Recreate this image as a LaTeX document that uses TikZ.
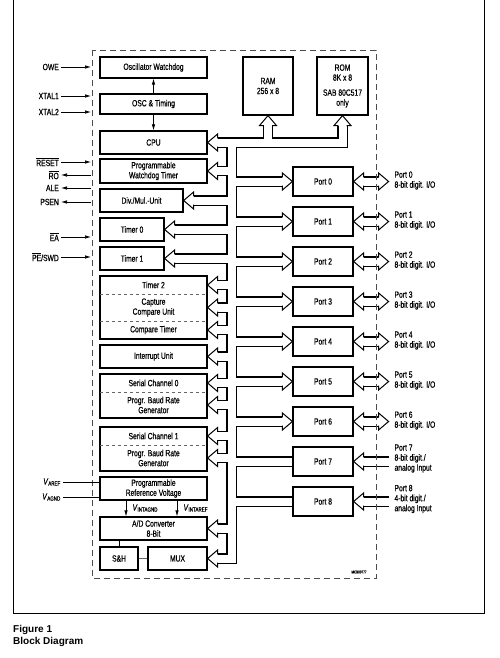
\documentclass[tikz,border=0pt]{standalone}
\usepackage{fontspec}
\setmainfont{Liberation Sans}[FakeStretch=0.75, FakeBold=0.5]
\newfontfamily\capfont{Liberation Sans}
\usetikzlibrary{arrows.meta, calc}

\newcommand{\ovl}[1]{$\overline{\mbox{#1}}$}

\begin{document}
\begin{tikzpicture}[x=1pt, y=-1pt,
    font=\fontsize{9}{10}\selectfont,
    blk/.style={draw, line width=1.2pt, inner sep=0pt, align=center},
    sig/.style={-{Latex[length=6pt,width=3.5pt]}, line width=0.7pt},
    lbl/.style={anchor=east, inner sep=2pt},
    busout/.style={line width=10.2pt},
    busin/.style={line width=8pt, white},
    sect/.style={dashed, black!60, line width=0.7pt},
    bushead/.pic={
        \fill[white] (0,0) -- (10,8.5) -- (10,-8.5) -- cycle;
        \draw[line width=1pt, line join=miter] (10,4.1) -- (10,8.5) -- (0,0) -- (10,-8.5) -- (10,-4.1);
    }]
    \useasboundingbox (0,0) rectangle (499,658);

    % frame and chip boundary
    \draw[line width=0.8pt] (13,0) -- (13,613) -- (484,613) -- (484,0);
    \coordinate (bnd) at (91,0);

    % left column
    \node[blk, minimum width=107pt, minimum height=21pt] (oscwd) at (153.5,67.5) {Oscillator Watchdog};
    \node[blk, minimum width=107pt, minimum height=20pt] (osc) at (153.5,104) {OSC \& Timing};
    \node[blk, minimum width=107pt, minimum height=23pt] (cpu) at (153.5,142.5) {CPU};
    \node[blk, minimum width=107pt, minimum height=24pt] (pwt) at (153.5,171) {Programmable\\Watchdog Timer};
    \node[blk, minimum width=83pt, minimum height=23pt] (divmul) at (141.5,200.5) {Div./Mul.-Unit};
    \node[blk, minimum width=64pt, minimum height=23pt] (tim0) at (132,229.5) {Timer 0};
    \node[blk, minimum width=64pt, minimum height=23pt] (tim1) at (132,258.5) {Timer 1};
    \node[blk, minimum width=107pt, minimum height=63pt] (ccu) at (153.5,307.5) {};
    \node (ccua) at (153.5,285) {Timer 2};
    \node[align=center] (ccub) at (153.5,307.5) {Capture\\Compare Unit};
    \node (ccuc) at (153.5,330) {Compare Timer};
    \draw[sect] (100,294) -- (207,294) (100,321) -- (207,321);
    \node[blk, minimum width=107pt, minimum height=23pt] (intr) at (153.5,356.5) {Interrupt Unit};
    \node[blk, minimum width=107pt, minimum height=44pt] (sc0) at (153.5,396) {};
    \node (sc0a) at (153.5,383) {Serial Channel 0};
    \node[align=center] (sc0b) at (153.5,405) {Progr. Baud Rate\\Generator};
    \draw[sect] (100,392) -- (207,392);
    \node[blk, minimum width=107pt, minimum height=44pt] (sc1) at (153.5,449) {};
    \node (sc1a) at (153.5,436) {Serial Channel 1};
    \node[align=center] (sc1b) at (153.5,458) {Progr. Baud Rate\\Generator};
    \draw[sect] (100,445) -- (207,445);
    \node[blk, minimum width=107pt, minimum height=23pt] (prv) at (153.5,488.5) {Programmable\\Reference Voltage};
    \node[blk, minimum width=107pt, minimum height=23pt] (adc) at (153.5,528.5) {A/D Converter\\8-Bit};
    \node[blk, minimum width=38pt, minimum height=23pt] (sh) at (119,558.5) {S\&H};
    \node[blk, minimum width=59pt, minimum height=23pt] (mux) at (177.5,558.5) {MUX};

    % memory
    \node[blk, minimum width=50pt, minimum height=58pt] (ram) at (268,86) {RAM\\256 x 8};
    \node[blk, minimum width=51pt, minimum height=58pt] (rom) at (342.5,86) {ROM\\8K x 8\\[5pt]SAB 80C517\\only};

    % ports
    \foreach \k in {0,...,8}
        \node[blk, minimum width=60pt, minimum height=29pt] (p\k) at (323,{181.5+40*\k}) {Port \k};
    \foreach \k in {0,...,6}
        \node[anchor=west, align=left] (pl\k) at (391,{180.5+40*\k}) {Port \k\\8-bit digit. I/O};
    \node[anchor=west, align=left] (pl7) at (391,458.5) {Port 7\\8-bit digit./\\analog Input};
    \node[anchor=west, align=left] (pl8) at (391,499) {Port 8\\4-bit digit./\\analog Input};

    % internal bus
    \coordinate (tk) at (231.5,142.5);
    \def\busnet{
        ($(cpu.east)+(10,0)$) -- (rom.south |- tk) -- ($(rom.south)+(0,10)$)
        (ram.south |- tk) -- ($(ram.south)+(0,10)$)
        (tk) -- (tk |- mux.east) -- ($(mux.east)+(10,0)$)
        foreach \b in {pwt, divmul, tim0, tim1, intr, adc} {
            (tk |- \b.east) -- ($(\b.east)+(10,0)$)
        }
        foreach \s/\b in {ccua/ccu, ccub/ccu, ccuc/ccu, sc0a/sc0, sc0b/sc0, sc1a/sc1, sc1b/sc1} {
            (tk |- \s) -- ($(\b.east |- \s)+(10,0)$)
        }
        foreach \k in {0,...,6} {
            (tk |- p\k.west) -- ($(p\k.west)+(-10,0)$)
            ($(p\k.east)+(10,0)$) -- ($(p\k.east)+(25,0)$)
        }
        (tk |- p7.west) -- (p7.west) ($(p7.east)+(10,0)$) -- ($(p7.east)+(35,0)$)
        (tk |- p8.west) -- (p8.west) ($(p8.east)+(10,0)$) -- ($(p8.east)+(35,0)$)
    }
    \draw[busout] \busnet;
    \draw[busin] \busnet;

    % bus heads
    \foreach \b in {cpu, pwt, divmul, tim0, tim1, intr, adc, mux}
        \pic at (\b.east) {bushead};
    \foreach \s/\b in {ccua/ccu, ccub/ccu, ccuc/ccu, sc0a/sc0, sc0b/sc0, sc1a/sc1, sc1b/sc1}
        \pic at (\b.east |- \s) {bushead};
    \pic[rotate=-90] at (ram.south) {bushead};
    \pic[rotate=-90] at (rom.south) {bushead};
    \foreach \k in {0,...,6} {
        \pic[xscale=-1] at (p\k.west) {bushead};
        \pic at (p\k.east) {bushead};
        \pic[xscale=-1] at ($(p\k.east)+(35,0)$) {bushead};
    }
    \pic at (p7.east) {bushead};
    \pic at (p8.east) {bushead};

    % chip boundary
    \draw[dashed, dash pattern=on 6pt off 4pt, line width=0.8pt, black!70] (92,50) rectangle (376,578);

    % external signals
    \node[lbl] (owe) at (61,67) {OWE};
    \node[lbl] (xtal1) at (61,96) {XTAL1};
    \node[lbl] (xtal2) at (61,112) {XTAL2};
    \node[lbl] (reset) at (61,162) {\ovl{RESET}};
    \node[lbl] (ro) at (61,175) {\ovl{RO}};
    \node[lbl] (ale) at (61,188) {ALE};
    \node[lbl] (psen) at (61,202) {PSEN};
    \node[lbl] (ea) at (61,237) {\ovl{EA}};
    \node[lbl] (pe) at (61,257) {\ovl{PE}/SWD};
    \node[lbl] (vref) at (63,482) {\textit{V}\textsubscript{AREF}};
    \node[lbl] (vagnd) at (63,497) {\textit{V}\textsubscript{AGND}};
    \foreach \s in {owe, xtal1, xtal2, reset, ea, pe}
        \draw[sig] (\s.east) -- (\s -| bnd);
    \foreach \s in {ro, ale, psen}
        \draw[sig] (\s -| bnd) -- (\s.east);
    \draw[line width=0.7pt] (vref.east) -- (vref -| prv.west);
    \draw[line width=0.7pt] (vagnd.east) -- (vagnd -| prv.west);

    % inner links
    \draw[sig] (osc.north) -- (oscwd.south);
    \draw[sig] (osc.south) -- (cpu.north);
    \draw[sig] ($(prv.south)+(-27.5,0)$) -- ($(adc.north)+(-27.5,0)$);
    \draw[sig] ($(prv.south)+(23.5,0)$) -- ($(adc.north)+(23.5,0)$);
    \node[anchor=west] (vintagnd) at (129,508) {\textit{V}\textsubscript{INTAGND}};
    \node[anchor=west] (vintaref) at (180,508) {\textit{V}\textsubscript{INTAREF}};
    \draw[line width=0.7pt] (sh.north) -- (sh.north |- adc.south);
    \draw[line width=0.7pt, black!60] (sh.east) -- (mux.west);

    \node[font=\fontsize{4}{5}\selectfont] (code) at (359,572) {MCB00777};

    % caption
    \node[anchor=north west, align=left, inner sep=0pt, font=\capfont\bfseries\fontsize{10}{12}\selectfont] (cap) at (13,625) {Figure 1\\Block Diagram};
\end{tikzpicture}
\end{document}
